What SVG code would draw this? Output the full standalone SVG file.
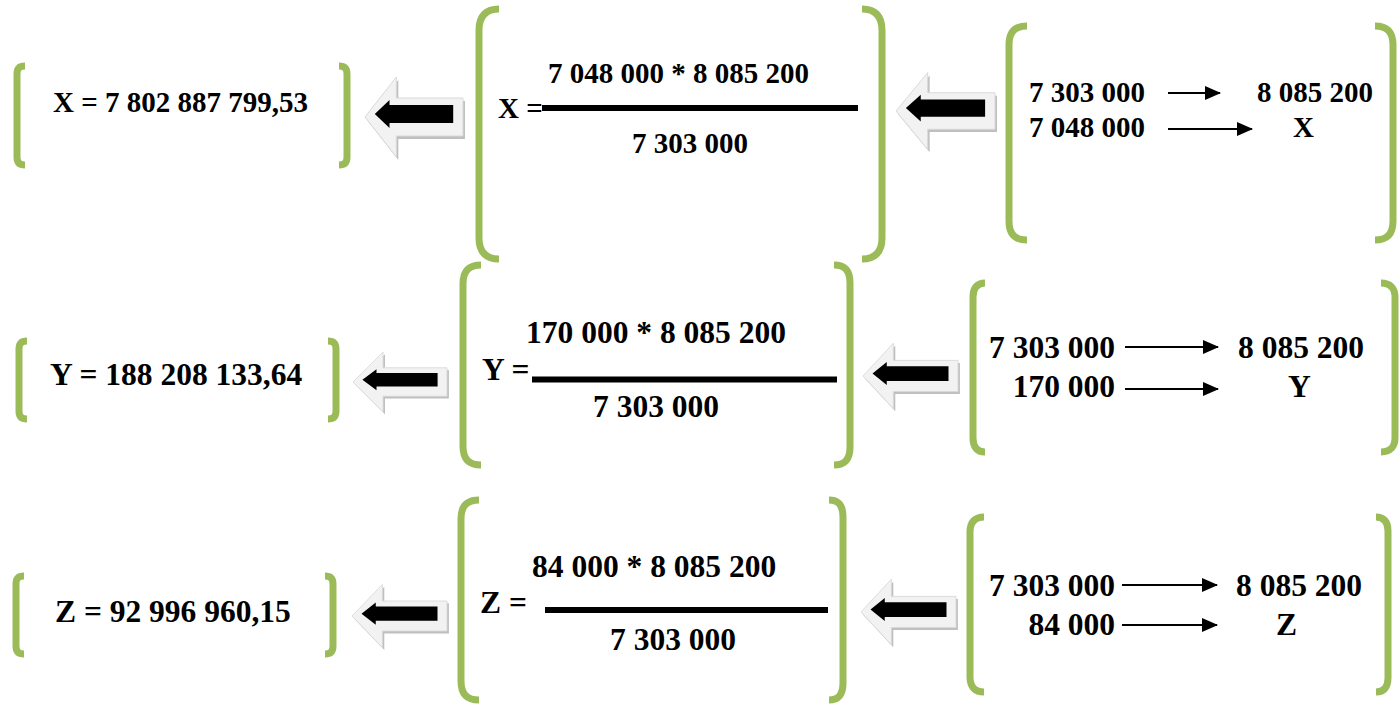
<svg xmlns="http://www.w3.org/2000/svg" xmlns:xlink="http://www.w3.org/1999/xlink" width="1400" height="705" viewBox="0 0 1400 705">
<style>
.t{font-family:"Liberation Serif","Times New Roman",serif;font-weight:bold;fill:#000}
.a{font-size:29px}
.b{font-size:31.5px}
.br{fill:none;stroke:#9BBB59;stroke-width:7}
.fr{stroke:#000;stroke-width:6}
.cn{stroke:#000;stroke-width:2;fill:none;marker-end:url(#ah)}
</style>
<defs>
<marker id="ah" markerUnits="userSpaceOnUse" markerWidth="16" markerHeight="14" refX="15" refY="7" orient="auto">
<path d="M0,0 L16,7 L0,14 Z" fill="#000"/>
</marker>
<g id="bigArrow">
<path d="M2,3 L34,-37 L34,-16 L102,-16 L102,22 L34,22 L34,43 Z" fill="#BFBFBF"/>
<path d="M0,0 L32,-40 L32,-19 L100,-19 L100,19 L32,19 L32,40 Z" fill="#F2F2F2" stroke="#D9D9D9" stroke-width="1"/>
<path d="M10,-3 L25,-17 L25,-12 L90,-12 L90,6 L25,6 L25,11 Z" fill="#000"/>
</g>
</defs>

<!-- Row 1 -->
<g id="result-x">
<path class="br" d="M25,66 C19,66 17,69 17,74 L17,157 C17,162 19,165 25,165"/>
<path class="br" d="M339,66 C345,66 347,69 347,74 L347,157 C347,162 345,165 339,165"/>
<text class="t a" x="53" y="112">X = 7 802 887 799,53</text>
</g>
<g id="formula-x">
<path class="br" d="M499,9 C486,9 479,16 479,30 L479,238 C479,252 486,259 499,259"/>
<path class="br" d="M862,9 C875,9 882,16 882,30 L882,238 C882,252 875,259 862,259"/>
<text class="t a" x="548" y="83">7 048 000 * 8 085 200</text>
<text class="t a" x="498" y="118">X =</text>
<line class="fr" x1="542" y1="108" x2="858" y2="108"/>
<text class="t a" x="632" y="153">7 303 000</text>
</g>
<g id="rule-x">
<path class="br" d="M1027,26 C1015,26 1009,32 1009,45 L1009,221 C1009,234 1015,240 1027,240"/>
<path class="br" d="M1375,26 C1387,26 1393,32 1393,45 L1393,221 C1393,234 1387,240 1375,240"/>
<text class="t a" x="1029" y="102">7 303 000</text>
<text class="t a" x="1257" y="102">8 085 200</text>
<text class="t a" x="1029" y="137">7 048 000</text>
<text class="t a" x="1293" y="137">X</text>
</g>

<!-- Row 2 -->
<g id="result-y">
<path class="br" d="M27,341 C21,341 19,344 19,349 L19,411 C19,416 21,419 27,419"/>
<path class="br" d="M328,341 C334,341 336,344 336,349 L336,411 C336,416 334,419 328,419"/>
<text class="t b" x="50" y="385">Y = 188 208 133,64</text>
</g>
<g id="formula-y">
<path class="br" d="M481,265 C469,265 463,271 463,284 L463,446 C463,459 469,465 481,465"/>
<path class="br" d="M834,265 C845,265 850,271 850,283 L850,447 C850,459 845,465 834,465"/>
<text class="t b" x="526" y="343">170 000 * 8 085 200</text>
<text class="t b" x="482" y="380">Y =</text>
<line class="fr" x1="532" y1="379.5" x2="837" y2="379.5" stroke-width="7"/>
<text class="t b" x="593" y="417">7 303 000</text>
</g>
<g id="rule-y">
<path class="br" d="M985,283 C977,283 973,288 973,297 L973,438 C973,447 977,452 985,452"/>
<path class="br" d="M1381,283 C1390,283 1395,288 1395,297 L1395,438 C1395,447 1390,452 1381,452"/>
<text class="t b" x="1115" y="358" text-anchor="end">7 303 000</text>
<text class="t b" x="1238" y="358">8 085 200</text>
<text class="t b" x="1115" y="397" text-anchor="end">170 000</text>
<text class="t b" x="1288" y="397">Y</text>
</g>

<!-- Row 3 -->
<g id="result-z">
<path class="br" d="M24,576 C18,576 16,579 16,584 L16,646 C16,651 18,654 24,654"/>
<path class="br" d="M325,576 C331,576 333,579 333,584 L333,646 C333,651 331,654 325,654"/>
<text class="t b" x="55" y="622">Z = 92 996 960,15</text>
</g>
<g id="formula-z">
<path class="br" d="M479,500 C467,500 461,506 461,519 L461,681 C461,694 467,700 479,700"/>
<path class="br" d="M829,500 C838,500 843,505 843,517 L843,683 C843,695 838,700 829,700"/>
<text class="t b" x="532" y="577">84 000 * 8 085 200</text>
<text class="t b" x="480" y="613">Z =</text>
<line class="fr" x1="545" y1="610" x2="828" y2="610"/>
<text class="t b" x="610" y="650">7 303 000</text>
</g>
<g id="rule-z">
<path class="br" d="M984,517 C975,517 970,522 970,532 L970,677 C970,687 975,692 984,692"/>
<path class="br" d="M1376,517 C1384,517 1388,522 1388,531 L1388,678 C1388,687 1384,692 1376,692"/>
<text class="t b" x="1115" y="596" text-anchor="end">7 303 000</text>
<text class="t b" x="1236" y="596">8 085 200</text>
<text class="t b" x="1115" y="635" text-anchor="end">84 000</text>
<text class="t b" x="1276" y="635">Z</text>
</g>

<g id="connectors">
<line class="cn" x1="1168" y1="93" x2="1220" y2="93"/>
<line class="cn" x1="1168" y1="129" x2="1252" y2="129"/>
<line class="cn" x1="1125" y1="347" x2="1218" y2="347"/>
<line class="cn" x1="1125" y1="389" x2="1218" y2="389"/>
<line class="cn" x1="1122" y1="585" x2="1217" y2="585"/>
<line class="cn" x1="1122" y1="625" x2="1217" y2="625"/>
<use xlink:href="#bigArrow" transform="translate(365,117) scale(0.98,1)"/>
<use xlink:href="#bigArrow" transform="translate(896,111) scale(0.99,0.96)"/>
<use xlink:href="#bigArrow" transform="translate(353,382) scale(0.94,0.75)"/>
<use xlink:href="#bigArrow" transform="translate(863,376) scale(0.95,0.82)"/>
<use xlink:href="#bigArrow" transform="translate(352,616) scale(0.95,0.79)"/>
<use xlink:href="#bigArrow" transform="translate(861,612) scale(0.95,0.82)"/>
</g>
</svg>
